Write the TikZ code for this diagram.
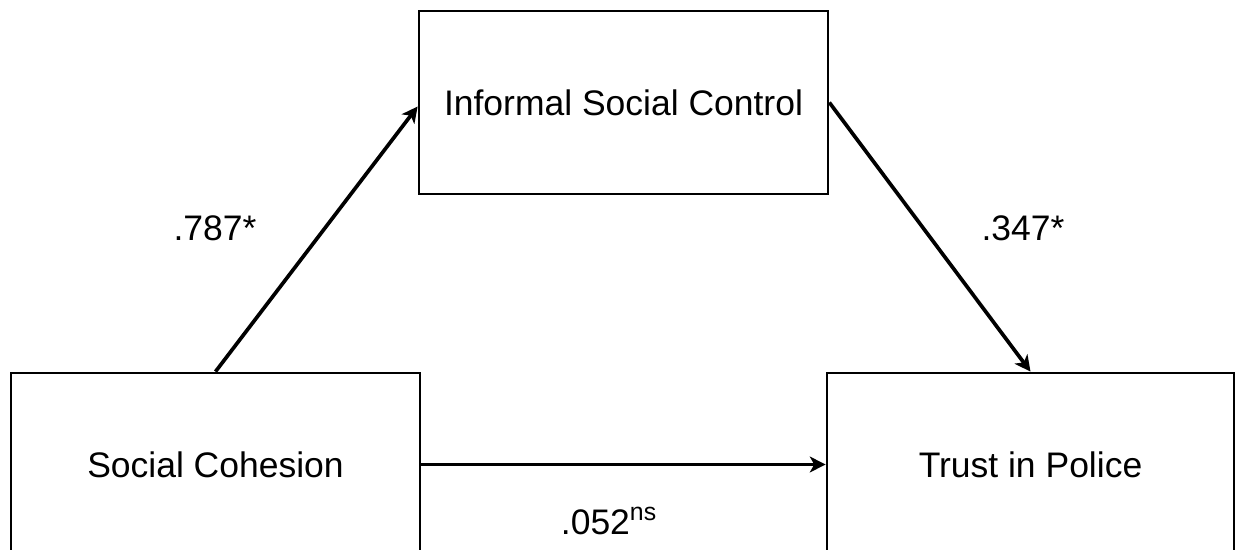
\documentclass[tikz,border=0pt]{standalone}
\usepackage{fontspec}
\setmainfont{Liberation Sans}
\usepackage{tikz}
\usetikzlibrary{calc,arrows.meta}
\tikzset{x=0.02cm, y=-0.02cm,
    var box/.style={draw=black, line width=1.6pt, minimum height=3.66cm,
          inner sep=0pt, font=\fontsize{20.2}{24}\selectfont},
    path arrow/.style={line width=2.1pt, -{Stealth[length=9pt,width=9pt,inset=2.5pt]}},
    coef/.style={font=\fontsize{20.2}{24}\selectfont}
    }

\begin{document}
\begin{tikzpicture}
\clip (0,0) rectangle (1236,550);
\fill[white] (0,0) rectangle (1236,550);
% boxes
\node (ISC) [var box, minimum width=8.18cm] at (623.5,102.5) {Informal Social Control};
\node (SC) [var box, minimum width=8.18cm] at (215.5,464.5) {Social Cohesion};
\node (TP) [var box, minimum width=8.14cm] at (1030.5,464.5) {Trust in Police};
% paths
\draw[path arrow] (SC.north) -- ($(ISC.west)+(0,4)$);
\draw[path arrow] (ISC.east) -- (TP.north);
\draw[path arrow] (SC.east) -- (TP.west);
% coefficients
\node (a) [coef] at (215,228) {.787*};
\node (b) [coef] at (1023,228) {.347*};
\node (c) [coef] at (609,521) {.052\textsuperscript{ns}};
\end{tikzpicture}
\end{document}
